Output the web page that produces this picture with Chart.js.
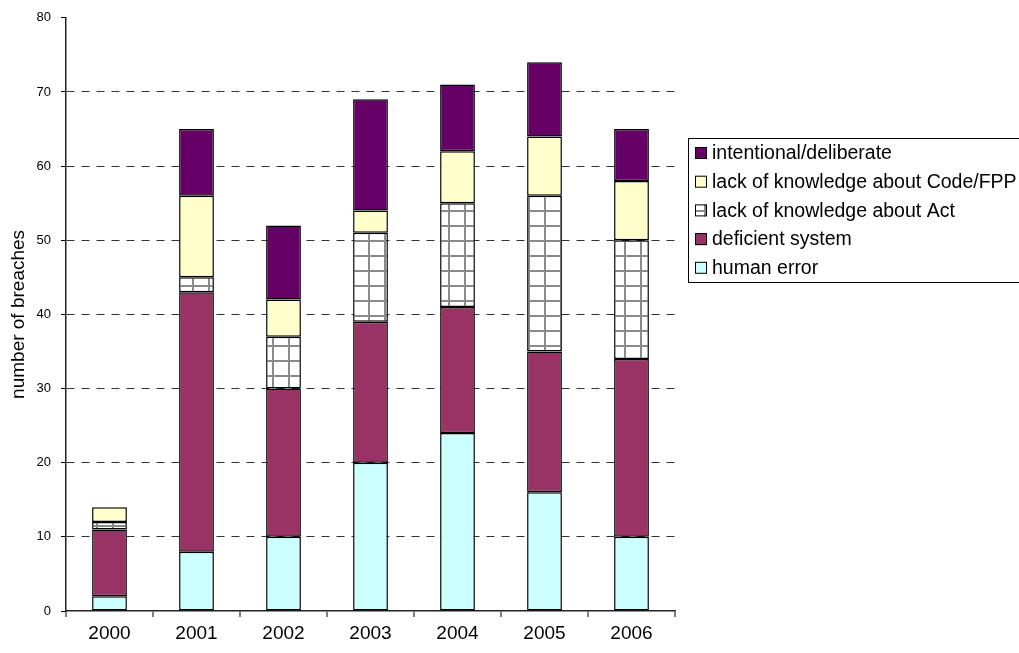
<!DOCTYPE html>
<html>
<head>
<meta charset="utf-8">
<script src="https://cdn.jsdelivr.net/npm/chart.js@4/dist/chart.umd.min.js"></script>
<style>
  body { margin: 0; background: #fff; }
  #wrap { width: 1019px; height: 653px; position: relative; }
</style>
</head>
<body>
<div id="wrap"><canvas id="breachChart"></canvas></div>
<script>
// categories and series (stacked bottom to top)
const years = ['2000', '2001', '2002', '2003', '2004', '2005', '2006'];
const humanError = [2, 8, 10, 20, 24, 16, 10];
const deficientSystem = [9, 35, 20, 19, 17, 19, 24];
const lackAct = [1, 2, 7, 12, 14, 21, 16];
const lackCode = [2, 11, 5, 3, 7, 8, 8];
const intentional = [0, 9, 10, 15, 9, 10, 7];
const yTicks = [0, 10, 20, 30, 40, 50, 60, 70, 80];

const FONT = "'Liberation Sans', Arial, sans-serif";

// crosshatch fill used for "lack of knowledge about Act"
function makeHatch() {
    const c = document.createElement('canvas');
    c.width = 16;
    c.height = 15;
    const g = c.getContext('2d');
    g.fillStyle = '#ffffff';
    g.fillRect(0, 0, 16, 15);
    g.fillStyle = '#8a8a8a';
    g.fillRect(0, 0, 2, 15);
    g.fillRect(0, 0, 16, 2);
    return g.createPattern(c, 'repeat');
}
const hatch = makeHatch();

const datasets = [
    { label: 'human error', data: humanError, backgroundColor: '#ccffff' },
    { label: 'deficient system', data: deficientSystem, backgroundColor: '#993366' },
    { label: 'lack of knowledge about Act', data: lackAct, backgroundColor: hatch },
    { label: 'lack of knowledge about Code/FPP', data: lackCode, backgroundColor: '#ffffcc' },
    { label: 'intentional/deliberate', data: intentional, backgroundColor: '#660066' }
].map(function(d) {
    return Object.assign(d, {
        borderColor: '#000000',
        borderWidth: 1.5,
        borderSkipped: false,
        categoryPercentage: 0.4,
        barPercentage: 1
    });
});

// legend in a box on the right, drawn by hand (reverse order, like Excel)
const boxLegend = {
    id: 'boxLegend',
    afterDraw(chart) {
        const ctx = chart.ctx;
        const left = 688, top = 138, bottom = 282;
        ctx.save();
        ctx.strokeStyle = '#000';
        ctx.lineWidth = 1;
        ctx.strokeRect(left + 0.5, top + 0.5, 1019 - left + 10, bottom - top);
        ctx.font = '19.5px ' + FONT;
        ctx.textBaseline = 'middle';
        ctx.fillStyle = '#000';
        const items = chart.data.datasets.slice().reverse();
        items.forEach(function(ds, i) {
            const cy = 153 + i * 28.7;
            ctx.fillStyle = ds.backgroundColor;
            ctx.fillRect(695, cy - 6, 12, 12);
            ctx.strokeStyle = '#000';
            ctx.strokeRect(695.5, cy - 5.5, 11, 11);
            ctx.fillStyle = '#000';
            ctx.fillText(ds.label, 712, cy + 1);
        });
        ctx.restore();
    }
};

new Chart(document.getElementById('breachChart'), {
    type: 'bar',
    data: { labels: years, datasets: datasets },
    plugins: [boxLegend],
    options: {
        responsive: true,
        maintainAspectRatio: false,
        animation: false,
        layout: { padding: { top: 17, right: 344, left: 0, bottom: 0 } },
        plugins: {
            legend: { display: false },
            tooltip: { enabled: false }
        },
        scales: {
            x: {
                stacked: true,
                afterFit: function(s) { s.height = 42; },
                grid: {
                    offset: true,
                    drawOnChartArea: true,
                    color: function(c) { return c.index === years.length ? '#a0a0a0' : 'rgba(0,0,0,0)'; },
                    lineWidth: 2,
                    tickColor: '#000',
                    tickLength: 6,
                    tickWidth: 1
                },
                border: { color: '#222', width: 1.5 },
                ticks: { color: '#000', font: { family: FONT, size: 19 }, padding: 5 }
            },
            y: {
                stacked: true,
                min: 0,
                max: 80,
                afterFit: function(s) { s.width = 66; },
                afterBuildTicks: function(s) { s.ticks = yTicks.map(function(v) { return { value: v }; }); },
                grid: {
                    color: function(c) {
                        const v = c.tick ? c.tick.value : 0;
                        return (v === 0 || v === 80) ? 'rgba(0,0,0,0)' : '#333333';
                    },
                    lineWidth: 1,
                    tickColor: '#000',
                    tickLength: 5,
                    tickWidth: 1,
                    tickBorderDash: []
                },
                border: { color: '#222', width: 1.5, dash: [8, 7] },
                ticks: { color: '#000', font: { family: FONT, size: 13 }, padding: 10 },
                title: {
                    display: true,
                    text: 'number of breaches',
                    color: '#000',
                    font: { family: FONT, size: 19 },
                    padding: { top: 7, bottom: 0 }
                }
            }
        }
    }
});
</script>
</body>
</html>
